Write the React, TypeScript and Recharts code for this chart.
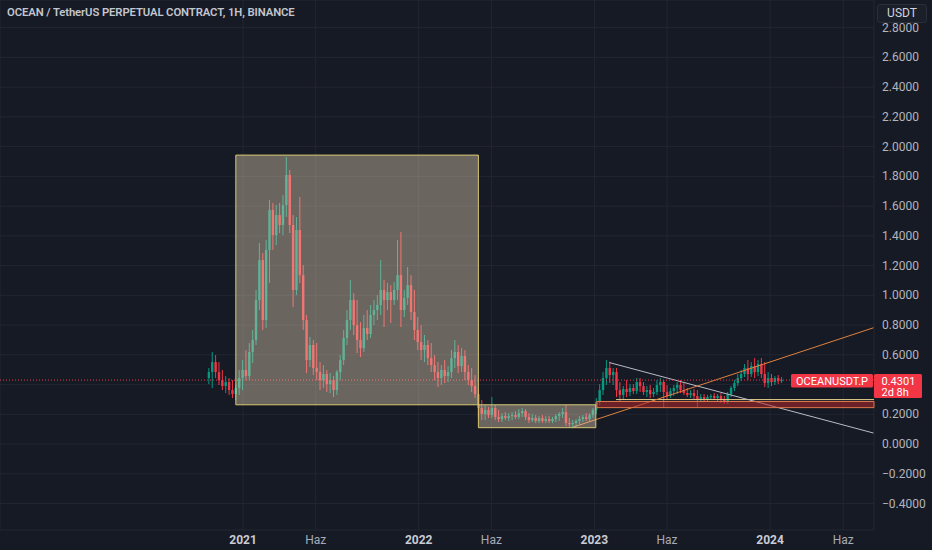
import React from "react";
import {
  Bar,
  CartesianGrid,
  ComposedChart,
  ReferenceArea,
  ReferenceLine,
  XAxis,
  YAxis,
} from "recharts";

// weekly candles, first one 70 days before 2021-01-01 (x axis = days from 2021-01-01)
const FIRST_DAY = -70;
const STEP_DAYS = 7;

const opens: number[] = [
  0.444, 0.484, 0.551, 0.484, 0.43, 0.39, 0.417, 0.363, 0.336, 0.377,
  0.444, 0.498, 0.457, 0.619, 0.699, 0.968, 1.237, 0.834, 1.305, 1.574,
  1.405, 1.54, 1.473, 1.607, 1.809, 1.473, 1.036, 1.439, 1.136, 0.834,
  0.565, 0.666, 0.511, 0.484, 0.43, 0.471, 0.403, 0.43, 0.363, 0.484,
  0.565, 0.713, 0.834, 0.968, 0.8, 0.699, 0.645, 0.78, 0.74, 0.868,
  0.901, 0.935, 1.036, 0.968, 1.022, 0.968, 1.036, 1.136, 0.901, 0.982,
  1.069, 0.888, 0.767, 0.686, 0.632, 0.666, 0.578, 0.531, 0.484, 0.444,
  0.498, 0.457, 0.484, 0.578, 0.619, 0.524, 0.592, 0.484, 0.43, 0.39,
  0.336, 0.242, 0.202, 0.229, 0.195, 0.242, 0.182, 0.168, 0.188, 0.175,
  0.188, 0.195, 0.182, 0.208, 0.222, 0.182, 0.161, 0.175, 0.155, 0.175,
  0.155, 0.168, 0.155, 0.168, 0.188, 0.202, 0.215, 0.141, 0.134, 0.141,
  0.155, 0.168, 0.182, 0.168, 0.195, 0.229, 0.282, 0.363, 0.444, 0.511,
  0.464, 0.484, 0.363, 0.33, 0.37, 0.35, 0.377, 0.356, 0.417, 0.39,
  0.35, 0.363, 0.336, 0.35, 0.397, 0.417, 0.35, 0.323, 0.356, 0.377,
  0.397, 0.363, 0.343, 0.33, 0.343, 0.323, 0.303, 0.316, 0.303, 0.316,
  0.323, 0.309, 0.323, 0.296, 0.282, 0.336, 0.377, 0.41, 0.444, 0.471,
  0.511, 0.471, 0.524, 0.484, 0.538, 0.471, 0.41, 0.444, 0.417, 0.444, 0.424,
];

const highs: number[] = [
  0.511, 0.619, 0.598, 0.551, 0.498, 0.457, 0.444, 0.43, 0.397, 0.498,
  0.565, 0.632, 0.679, 0.767, 1.036, 1.352, 1.284, 1.372, 1.641, 1.621,
  1.607, 1.621, 1.675, 1.93, 1.843, 1.54, 1.527, 1.661, 1.204, 0.868,
  0.72, 0.699, 0.679, 0.551, 0.531, 0.498, 0.477, 0.457, 0.498, 0.598,
  0.767, 0.901, 1.103, 1.015, 0.968, 0.82, 0.868, 0.901, 0.935, 0.968,
  1.002, 1.237, 1.103, 1.083, 1.069, 1.089, 1.372, 1.426, 1.036, 1.19,
  1.136, 1.036, 0.854, 0.8, 0.733, 0.699, 0.679, 0.598, 0.551, 0.531,
  0.565, 0.524, 0.632, 0.699, 0.666, 0.645, 0.632, 0.531, 0.511, 0.464,
  0.363, 0.296, 0.262, 0.249, 0.316, 0.262, 0.229, 0.208, 0.215, 0.208,
  0.215, 0.222, 0.235, 0.242, 0.235, 0.208, 0.202, 0.195, 0.188, 0.195,
  0.188, 0.188, 0.182, 0.202, 0.215, 0.242, 0.262, 0.175, 0.161, 0.168,
  0.188, 0.195, 0.208, 0.208, 0.242, 0.309, 0.403, 0.484, 0.565, 0.551,
  0.511, 0.511, 0.417, 0.39, 0.43, 0.403, 0.403, 0.444, 0.444, 0.417,
  0.39, 0.397, 0.377, 0.43, 0.444, 0.43, 0.397, 0.377, 0.397, 0.417,
  0.43, 0.41, 0.377, 0.363, 0.37, 0.363, 0.336, 0.336, 0.33, 0.336,
  0.343, 0.336, 0.343, 0.323, 0.35, 0.39, 0.43, 0.471, 0.498, 0.538,
  0.565, 0.551, 0.578, 0.565, 0.578, 0.551, 0.484, 0.471, 0.457, 0.464, 0.451,
];

const lows: number[] = [
  0.403, 0.377, 0.444, 0.397, 0.363, 0.343, 0.33, 0.309, 0.296, 0.33,
  0.363, 0.43, 0.43, 0.545, 0.666, 0.901, 0.767, 0.78, 1.083, 1.305,
  1.338, 1.419, 1.405, 1.527, 1.419, 0.921, 1.002, 1.083, 0.767, 0.477,
  0.518, 0.464, 0.43, 0.363, 0.377, 0.35, 0.343, 0.316, 0.33, 0.43,
  0.531, 0.666, 0.767, 0.733, 0.612, 0.585, 0.619, 0.699, 0.713, 0.8,
  0.834, 0.868, 0.787, 0.901, 0.814, 0.935, 0.968, 0.787, 0.854, 0.935,
  0.834, 0.699, 0.632, 0.565, 0.551, 0.531, 0.484, 0.43, 0.383, 0.397,
  0.41, 0.417, 0.444, 0.511, 0.477, 0.484, 0.43, 0.397, 0.35, 0.309,
  0.175, 0.161, 0.161, 0.175, 0.175, 0.161, 0.148, 0.148, 0.161, 0.155,
  0.161, 0.168, 0.168, 0.182, 0.161, 0.141, 0.148, 0.141, 0.141, 0.141,
  0.141, 0.141, 0.141, 0.148, 0.155, 0.175, 0.121, 0.114, 0.107, 0.121,
  0.134, 0.148, 0.155, 0.155, 0.175, 0.202, 0.262, 0.33, 0.397, 0.41,
  0.397, 0.316, 0.282, 0.296, 0.316, 0.323, 0.336, 0.336, 0.35, 0.33,
  0.316, 0.309, 0.316, 0.33, 0.35, 0.242, 0.296, 0.309, 0.323, 0.336,
  0.343, 0.33, 0.316, 0.309, 0.303, 0.249, 0.282, 0.289, 0.289, 0.296,
  0.296, 0.289, 0.276, 0.269, 0.269, 0.316, 0.356, 0.39, 0.424, 0.451,
  0.43, 0.451, 0.444, 0.457, 0.444, 0.383, 0.377, 0.39, 0.397, 0.403, 0.41,
];

const closes: number[] = [
  0.484, 0.551, 0.484, 0.43, 0.39, 0.417, 0.363, 0.336, 0.377, 0.444,
  0.498, 0.457, 0.619, 0.699, 0.968, 1.237, 0.834, 1.305, 1.574, 1.405,
  1.54, 1.473, 1.607, 1.809, 1.473, 1.036, 1.439, 1.136, 0.834, 0.565,
  0.666, 0.511, 0.484, 0.43, 0.471, 0.403, 0.43, 0.363, 0.484, 0.565,
  0.713, 0.834, 0.968, 0.8, 0.699, 0.645, 0.78, 0.74, 0.868, 0.901,
  0.935, 1.036, 0.968, 1.022, 0.968, 1.036, 1.136, 0.901, 0.982, 1.069,
  0.888, 0.767, 0.686, 0.632, 0.666, 0.578, 0.531, 0.484, 0.444, 0.498,
  0.457, 0.484, 0.578, 0.619, 0.524, 0.592, 0.484, 0.43, 0.39, 0.336,
  0.242, 0.202, 0.229, 0.195, 0.242, 0.182, 0.168, 0.188, 0.175, 0.188,
  0.195, 0.182, 0.208, 0.222, 0.182, 0.161, 0.175, 0.155, 0.175, 0.155,
  0.168, 0.155, 0.168, 0.188, 0.202, 0.215, 0.141, 0.134, 0.141, 0.155,
  0.168, 0.182, 0.168, 0.195, 0.229, 0.282, 0.363, 0.444, 0.511, 0.464,
  0.484, 0.363, 0.33, 0.37, 0.35, 0.377, 0.356, 0.417, 0.39, 0.35,
  0.363, 0.336, 0.35, 0.397, 0.417, 0.35, 0.323, 0.356, 0.377, 0.397,
  0.363, 0.343, 0.33, 0.343, 0.323, 0.303, 0.316, 0.303, 0.316, 0.323,
  0.309, 0.323, 0.296, 0.282, 0.336, 0.377, 0.41, 0.444, 0.471, 0.511,
  0.471, 0.524, 0.484, 0.538, 0.471, 0.41, 0.444, 0.417, 0.444, 0.424, 0.4301,
];

const timeTicks = [0, 151, 365, 516, 730, 881, 1095, 1247];
const timeLabels = ["2021", "Haz", "2022", "Haz", "2023", "Haz", "2024", "Haz"];
const priceTicks = [
  -0.4, -0.2, 0, 0.2, 0.4, 0.6, 0.8, 1.0, 1.2, 1.4, 1.6, 1.8, 2.0, 2.2, 2.4, 2.6, 2.8,
];

const LAST_PRICE = 0.4301;

// drawings (x in days from 2021-01-01, y in USDT)
const boxes = [
  { x1: -15, x2: 489, y1: 0.264, y2: 1.943 },
  { x1: 489, x2: 733, y1: 0.11, y2: 0.264 },
];
const trendDown = [
  { x: 761, y: 0.548 },
  { x: 1310, y: 0.074 },
];
const trendUp = [
  { x: 686, y: 0.114 },
  { x: 1310, y: 0.782 },
];
const supportLine = { from: 775, y: 0.299 };
const supportZone = { from: 735, y1: 0.245, y2: 0.286 };

const candles = opens.map((open, i) => ({
  day: FIRST_DAY + i * STEP_DAYS,
  open,
  high: highs[i],
  low: lows[i],
  close: closes[i],
}));

const UP = "#089981";
const DOWN = "#f23645";
const FONT = "Roboto, 'Noto Sans', sans-serif";

const Candle = (props: any) => {
  const { x, y, width, height, payload } = props;
  if (!payload) return null;
  const { open, close, high, low } = payload;
  const color = close >= open ? UP : DOWN;
  const top = Math.min(y, y + height);
  const h = Math.abs(height);
  const range = high - low || 1;
  const yOf = (v: number) => top + ((high - v) / range) * h;
  const cx = x + width / 2;
  const bTop = yOf(Math.max(open, close));
  const bBot = yOf(Math.min(open, close));
  return (
    <g>
      <line x1={cx} x2={cx} y1={top} y2={top + h} stroke={color} strokeWidth={1} />
      <rect x={x} y={bTop} width={width} height={Math.max(1, bBot - bTop)} fill={color} />
    </g>
  );
};

const TimeTick = (props: any) => {
  const { x, y, payload } = props;
  const label = timeLabels[timeTicks.indexOf(payload.value)];
  const isYear = label !== "Haz";
  return (
    <text
      x={x}
      y={y + 14}
      textAnchor="middle"
      fontFamily={FONT}
      fontSize={12}
      fontWeight={isYear ? 700 : 400}
      fill={isYear ? "#c9ccd4" : "#a8abb5"}
    >
      {label}
    </text>
  );
};

// price labels; the one under the last-price tag is covered by it
const PriceTick = (props: any) => {
  const { x, y, payload } = props;
  if (Math.abs(payload.value - LAST_PRICE) < 0.05) return null;
  return (
    <text
      x={x}
      y={y}
      dy={4}
      textAnchor="start"
      fontFamily={FONT}
      fontSize={12}
      fill="#b2b5be"
    >
      {payload.value.toFixed(4).replace("-", "\u2212")}
    </text>
  );
};

const PriceTag = (props: any) => {
  const { viewBox } = props;
  if (!viewBox) return null;
  const right = viewBox.x + viewBox.width;
  const y = viewBox.y;
  return (
    <g fontFamily={FONT} fontSize={11}>
      <rect x={right - 83} y={y - 6} width={82} height={13.5} rx={1.5} fill={DOWN} />
      <text x={right - 42} y={y + 4.5} fill="#ffffff" textAnchor="middle">
        OCEANUSDT.P
      </text>
      <rect x={right} y={y - 6} width={48} height={24} rx={1.5} fill={DOWN} />
      <text x={right + 7.5} y={y + 4.5} fill="#ffffff">
        {LAST_PRICE.toFixed(4)}
      </text>
      <text x={right + 7.5} y={y + 16} fill="#ffffff">
        2d 8h
      </text>
    </g>
  );
};

export default function App() {
  return (
    <div
      style={{
        position: "fixed",
        left: 0,
        top: 0,
        width: 932,
        height: 550,
        background: "#161a25",
        overflow: "hidden",
      }}
    >
      <ComposedChart
        width={932}
        height={550}
        data={candles}
        margin={{ top: 0, right: 0, bottom: 0, left: 0 }}
      >
        <CartesianGrid stroke="#222633" strokeWidth={1} />
        <XAxis
          dataKey="day"
          type="number"
          domain={[-505, 1311]}
          allowDataOverflow
          ticks={timeTicks}
          tick={<TimeTick />}
          tickLine={false}
          tickSize={0}
          tickMargin={0}
          axisLine={false}
          height={20}
        />
        <YAxis
          orientation="right"
          type="number"
          domain={[-0.578, 2.986]}
          allowDataOverflow
          ticks={priceTicks}
          tick={<PriceTick />}
          tickLine={false}
          tickSize={0}
          tickMargin={8}
          axisLine={false}
          width={58}
        />
        <Bar
          dataKey={(d: any) => [d.low, d.high]}
          barSize={2.4}
          shape={<Candle />}
          isAnimationActive={false}
        />
        {boxes.map((b, i) => (
          <ReferenceArea
            key={i}
            x1={b.x1}
            x2={b.x2}
            y1={b.y1}
            y2={b.y2}
            fill="rgba(236, 214, 184, 0.4)"
            fillOpacity={1}
            stroke="#d8c870"
            strokeWidth={1}
            zIndex={500}
          />
        ))}
        <ReferenceArea
          x1={supportZone.from}
          x2={1311}
          y1={supportZone.y1}
          y2={supportZone.y2}
          fill="rgba(180, 38, 42, 0.55)"
          fillOpacity={1}
          stroke="#d9784a"
          strokeWidth={1}
          zIndex={500}
        />
        <ReferenceLine
          segment={[
            { x: supportLine.from, y: supportLine.y },
            { x: 1311, y: supportLine.y },
          ]}
          stroke="#e6cf8a"
          strokeWidth={1}
        />
        <ReferenceLine segment={trendDown} stroke="#b8bbc4" strokeWidth={1} />
        <ReferenceLine segment={trendUp} stroke="#e0823d" strokeWidth={1} />
        <ReferenceLine
          y={LAST_PRICE}
          stroke={DOWN}
          strokeDasharray="1 2"
          strokeWidth={1}
          label={<PriceTag />}
        />
      </ComposedChart>
      <div
        style={{
          position: "absolute",
          left: 7,
          top: 6,
          fontFamily: FONT,
          fontSize: 11.3,
          fontWeight: 600,
          letterSpacing: -0.1,
          color: "#c3c6ce",
          whiteSpace: "nowrap",
        }}
      >
        OCEAN / TetherUS PERPETUAL CONTRACT, 1H, BINANCE
      </div>
      <div
        style={{
          position: "absolute",
          left: 877,
          top: 4,
          width: 50,
          height: 19,
          boxSizing: "border-box",
          border: "1px solid #2a2e39",
          borderRadius: 3,
          background: "#1b1f2a",
          color: "#d1d4dc",
          fontFamily: FONT,
          fontSize: 12,
          lineHeight: "17px",
          textAlign: "center",
        }}
      >
        USDT
      </div>
    </div>
  );
}
